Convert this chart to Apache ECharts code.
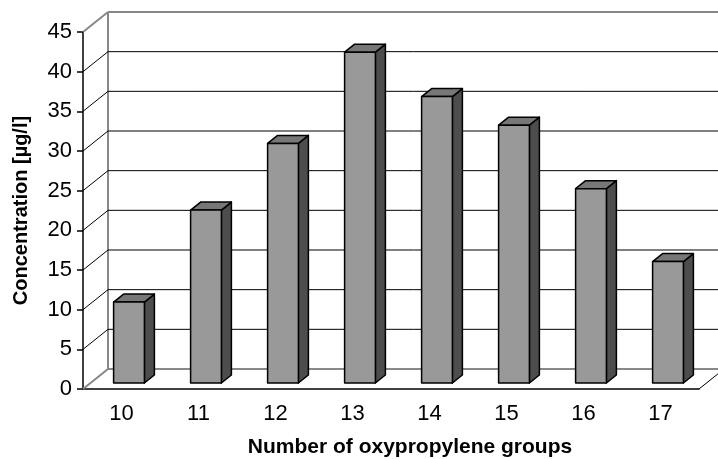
<!DOCTYPE html>
<html>
<head>
<meta charset="utf-8">
<title>Concentration by number of oxypropylene groups</title>
<script src="https://cdn.jsdelivr.net/npm/echarts@6/dist/echarts.min.js"></script>
<style>
  html, body { margin: 0; padding: 0; background: #ffffff; }
  #chart { width: 718px; height: 459px; }
</style>
</head>
<body>
<div id="chart"></div>
<script>
// Number of oxypropylene groups (category axis)
const categories = ['10', '11', '12', '13', '14', '15', '16', '17'];
// Concentration in µg/l for each group count
const concentration = [10.2, 21.8, 30.2, 41.7, 36.1, 32.5, 24.5, 15.3];
// Value-axis ticks
const yTicks = [0, 5, 10, 15, 20, 25, 30, 35, 40, 45];

// Pseudo-3D depth of the plot box (pixels)
const DEPTH_X = 25;
const DEPTH_Y = 20;
const BAR_FRONT = 0.3;   // bar front face, as a fraction of the depth
const BAR_DEPTH = 0.4;   // bar thickness, as a fraction of the depth
const BAR_WIDTH = 0.4;   // bar width, as a fraction of the category band

const FONT = '"Liberation Sans", Arial, Helvetica, sans-serif';
const WALL = '#888888';

const chart = echarts.init(document.getElementById('chart'), null, { renderer: 'canvas' });

// Back wall, side wall and floor with gridlines
function renderWalls(params, api) {
  const cs = params.coordSys;
  const v = api.value(0);
  const y = api.coord([0, v])[1];
  const x0 = cs.x;
  const x1 = cs.x + cs.width;
  const frame = (v === yTicks[0] || v === yTicks[yTicks.length - 1]);
  const stroke = frame ? WALL : '#000000';
  const lw = frame ? 2 : 1;
  const children = [
    { type: 'line', shape: { x1: x0, y1: y, x2: x0 + DEPTH_X, y2: y - DEPTH_Y },
      style: { stroke: stroke, lineWidth: lw } },
    { type: 'line', shape: { x1: x0 + DEPTH_X, y1: y - DEPTH_Y, x2: x1 + DEPTH_X, y2: y - DEPTH_Y },
      style: { stroke: stroke, lineWidth: lw } }
  ];
  if (params.dataIndex === 0) {
    const yTop = api.coord([0, yTicks[yTicks.length - 1]])[1];
    children.push(
      { type: 'line', shape: { x1: x0 + DEPTH_X, y1: y - DEPTH_Y, x2: x0 + DEPTH_X, y2: yTop - DEPTH_Y },
        style: { stroke: WALL, lineWidth: 2 } },
      { type: 'line', shape: { x1: x1, y1: y, x2: x1 + DEPTH_X, y2: y - DEPTH_Y },
        style: { stroke: '#000000', lineWidth: 1 } }
    );
  }
  return { type: 'group', children: children };
}

// Pseudo-3D column: front face, top face and right side face
function renderBar(params, api) {
  const idx = api.value(0);
  const val = api.value(1);
  const base = api.coord([idx, 0]);
  const top = api.coord([idx, val]);
  const band = api.size([1, 0])[0];
  const w = band * BAR_WIDTH;
  const fx = DEPTH_X * BAR_FRONT;
  const fy = DEPTH_Y * BAR_FRONT;
  const dx = DEPTH_X * BAR_DEPTH;
  const dy = DEPTH_Y * BAR_DEPTH;
  const L = base[0] - w / 2 + fx;
  const R = L + w;
  const yt = top[1] - fy;
  const yb = base[1] - fy;
  const edge = { stroke: '#000000', lineWidth: 1.5, lineJoin: 'round' };
  return {
    type: 'group',
    children: [
      { type: 'polygon', shape: { points: [[R, yt], [R + dx, yt - dy], [R + dx, yb - dy], [R, yb]] },
        style: Object.assign({ fill: '#4d4d4d' }, edge) },
      { type: 'polygon', shape: { points: [[L, yt], [L + dx, yt - dy], [R + dx, yt - dy], [R, yt]] },
        style: Object.assign({ fill: '#777777' }, edge) },
      { type: 'rect', shape: { x: L, y: yt, width: w, height: yb - yt },
        style: Object.assign({ fill: '#999999' }, edge) }
    ]
  };
}

const option = {
  animation: false,
  backgroundColor: '#ffffff',
  textStyle: { fontFamily: FONT },
  grid: { left: 83, right: 19, top: 32, bottom: 70 },
  xAxis: {
    type: 'category',
    data: categories,
    boundaryGap: true,
    axisLine: { lineStyle: { color: '#000000', width: 1.5 } },
    axisTick: { length: 6, lineStyle: { color: '#000000', width: 1.5 } },
    axisLabel: { color: '#000000', fontSize: 22, fontFamily: FONT, margin: 14 },
    splitLine: { show: false }
  },
  yAxis: {
    type: 'value',
    min: 0,
    max: 45,
    interval: 5,
    name: 'Concentration [µg/l]',
    nameLocation: 'middle',
    nameGap: 52,
    nameRotate: 90,
    nameTextStyle: { color: '#000000', fontSize: 20, fontWeight: 'bold', fontFamily: FONT },
    axisLine: { show: true, lineStyle: { color: '#000000', width: 1.5 } },
    axisTick: { show: true, length: 6, lineStyle: { color: '#000000', width: 1.5 } },
    axisLabel: { color: '#000000', fontSize: 22, fontFamily: FONT, margin: 11 },
    splitLine: { show: false }
  },
  graphic: [
    {
      type: 'text',
      x: 410,
      y: 447,
      style: {
        text: 'Number of oxypropylene groups',
        fill: '#000000',
        font: 'bold 21px ' + FONT,
        textAlign: 'center',
        textVerticalAlign: 'middle'
      }
    }
  ],
  series: [
    {
      type: 'custom',
      name: 'walls',
      z: 1,
      silent: true,
      clip: false,
      renderItem: renderWalls,
      data: yTicks.map(function (t) { return [t]; }),
      encode: { y: 0 }
    },
    {
      type: 'custom',
      name: 'Concentration',
      z: 3,
      clip: false,
      renderItem: renderBar,
      data: categories.map(function (c, i) { return [i, concentration[i]]; }),
      encode: { x: 0, y: 1 }
    }
  ]
};

chart.setOption(option);
</script>
</body>
</html>
